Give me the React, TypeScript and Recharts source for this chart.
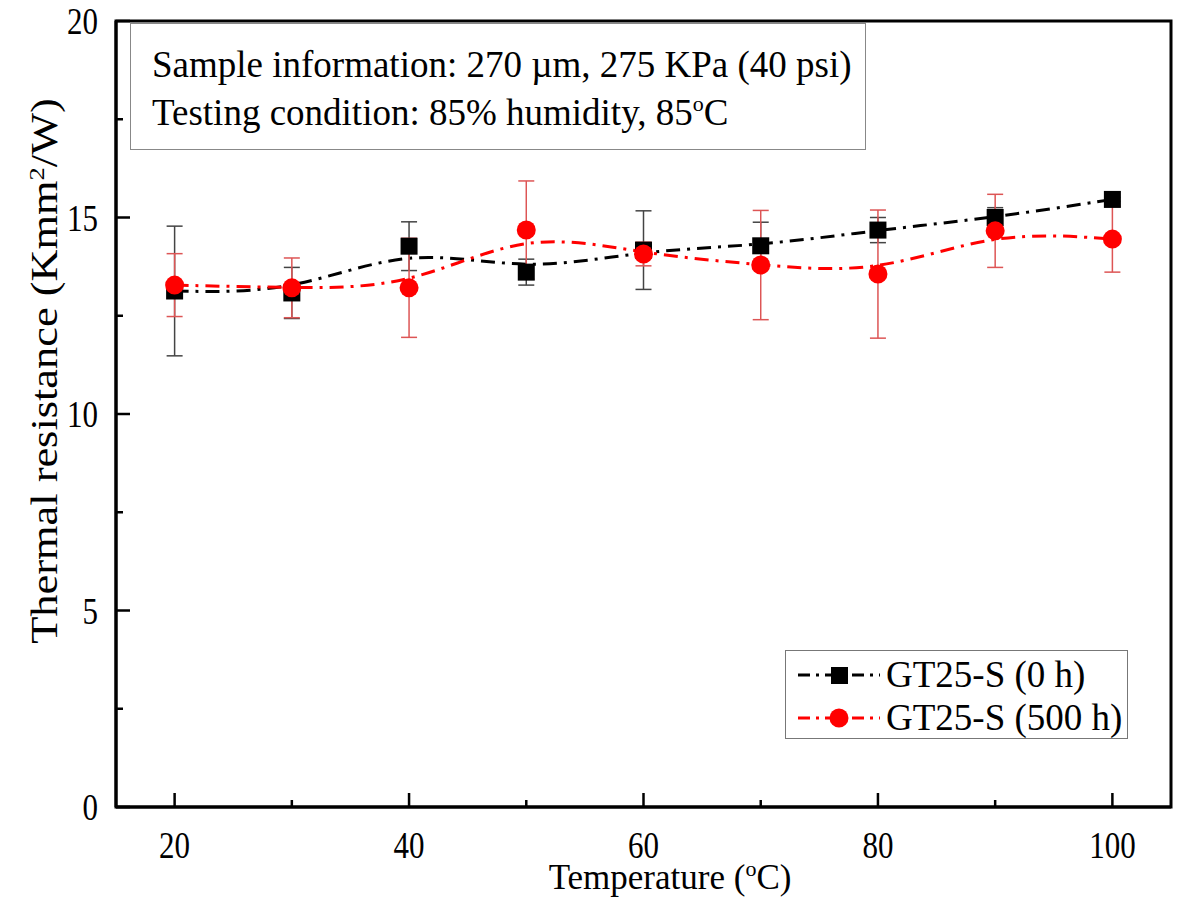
import { ComposedChart, Line, ErrorBar, XAxis, YAxis, Legend, ReferenceArea } from 'recharts'

const temps = [20, 30, 40, 50, 60, 70, 80, 90, 100]
const res0h = [13.13, 13.08, 14.27, 13.61, 14.17, 14.28, 14.68, 15.0, 15.46]
const err0h = [1.65, 0.65, 0.62, 0.33, 1.0, 0.6, 0.32, 0.25, 0.05]
const res500h = [13.28, 13.21, 13.21, 14.68, 14.07, 13.79, 13.56, 14.66, 14.45]
const err500h = [0.8, 0.76, 1.26, 1.25, 0.3, 1.39, 1.63, 0.93, 0.84]

const xTicks = [20, 30, 40, 50, 60, 70, 80, 90, 100]
const xLabeled = [20, 40, 60, 80, 100]
const yTicks = [0, 2.5, 5, 7.5, 10, 12.5, 15, 17.5, 20]
const yLabeled = [0, 5, 10, 15, 20]

const FONT = '"Liberation Serif", "Times New Roman", serif'
const RED = '#ff0000'
const DASH = '14 7 3 7'

const data = temps.map((t, i) => ({
  t,
  h0: res0h[i],
  h0Err: err0h[i],
  h500: res500h[i],
  h500Err: err500h[i],
}))

// the source figure is a bit taller than wide, so axis text gets stretched vertically
function XTick({ x, y, payload }: any) {
  const major = xLabeled.includes(payload.value)
  return (
    <g>
      <line x1={x} x2={x} y1={y} y2={y - (major ? 14 : 7)} stroke="#000" strokeWidth={2.5} />
      {major && (
        <text
          transform={`translate(${x} ${y + 51}) scale(1 1.2)`}
          textAnchor="middle"
          fontSize={31}
          fontFamily={FONT}
          fill="#000"
        >
          {payload.value}
        </text>
      )}
    </g>
  )
}

function YTick({ x, y, payload }: any) {
  const major = yLabeled.includes(payload.value)
  return (
    <g>
      <line x1={x} x2={x + (major ? 14 : 7)} y1={y} y2={y} stroke="#000" strokeWidth={2.5} />
      {major && (
        <text
          transform={`translate(${x - 18} ${y + 13}) scale(1 1.22)`}
          textAnchor="end"
          fontSize={31}
          fontFamily={FONT}
          fill="#000"
        >
          {payload.value}
        </text>
      )}
    </g>
  )
}

function SquareDot(p: any) {
  const { cx, cy, index } = p
  return <rect key={`sq-${index}`} x={cx - 8.5} y={cy - 8.5} width={17} height={17} fill="#000" />
}

function CircleDot(p: any) {
  const { cx, cy, index } = p
  return <circle key={`ci-${index}`} cx={cx} cy={cy} r={9.5} fill={RED} />
}

function LegendBox() {
  const rows = [
    { label: 'GT25-S (0 h)', color: '#000', square: true },
    { label: 'GT25-S (500 h)', color: RED, square: false },
  ]
  return (
    <div
      style={{
        border: '1.5px solid #777',
        background: '#fff',
        width: 343,
        height: 89,
        boxSizing: 'border-box',
        paddingTop: 2,
        fontFamily: FONT,
      }}
    >
      {rows.map((r) => (
        <div key={r.label} style={{ display: 'flex', alignItems: 'center', height: 43 }}>
          <svg width={92} height={30} style={{ marginLeft: 8 }}>
            <line x1={4} x2={86} y1={15} y2={15} stroke={r.color} strokeWidth={3} strokeDasharray="12 6 3 6" />
            {r.square ? (
              <rect x={37} y={7} width={17} height={17} fill="#000" />
            ) : (
              <circle cx={45} cy={15} r={9.5} fill={RED} />
            )}
          </svg>
          <span style={{ fontSize: 37, color: '#000', lineHeight: '37px' }}>{r.label}</span>
        </div>
      ))}
    </div>
  )
}

export default function App() {
  return (
    <div style={{ position: 'absolute', left: 0, top: 0, width: 1178, height: 901, background: '#fff' }}>
      <ComposedChart
        width={1178}
        height={901}
        data={data}
        margin={{ top: 21, right: 7, bottom: 0, left: 0 }}
      >
        <XAxis
          dataKey="t"
          type="number"
          domain={[15, 105]}
          ticks={xTicks}
          tick={<XTick />}
          tickLine={false}
          tickSize={0}
          tickMargin={0}
          height={94}
          axisLine={{ stroke: '#000', strokeWidth: 3 }}
          label={{
            content: () => (
              <text x={670} y={889} textAnchor="middle" fontSize={35} fontFamily={FONT} fill="#000">
                Temperature (<tspan dy={-13} fontSize={22}>o</tspan>
                <tspan dy={13}>C)</tspan>
              </text>
            ),
          }}
        />
        <YAxis
          type="number"
          domain={[0, 20]}
          ticks={yTicks}
          tick={<YTick />}
          tickLine={false}
          tickSize={0}
          tickMargin={0}
          width={116}
          axisLine={{ stroke: '#000', strokeWidth: 3 }}
          label={{
            content: () => (
              <text
                x={0}
                y={0}
                transform="translate(57 371) rotate(-90) scale(1.2 1)"
                textAnchor="middle"
                fontSize={37}
                fontFamily={FONT}
                fill="#000"
              >
                Thermal resistance (Kmm<tspan dy={-13} fontSize={22}>2</tspan>
                <tspan dy={13}>/W)</tspan>
              </text>
            ),
          }}
        />
        <ReferenceArea x1={15} x2={105} y1={0} y2={20} fill="none" stroke="#000" strokeWidth={3} ifOverflow="visible" />
        <Line
          dataKey="h0"
          name="GT25-S (0 h)"
          type="basis"
          stroke="#000"
          strokeWidth={3}
          strokeDasharray={DASH}
          dot={SquareDot}
          activeDot={false}
          isAnimationActive={false}
        >
          <ErrorBar dataKey="h0Err" direction="y" width={8} stroke="#444" strokeWidth={1.5} />
        </Line>
        <Line
          dataKey="h500"
          name="GT25-S (500 h)"
          type="basis"
          stroke={RED}
          strokeWidth={3}
          strokeDasharray={DASH}
          dot={CircleDot}
          activeDot={false}
          isAnimationActive={false}
        >
          <ErrorBar dataKey="h500Err" direction="y" width={8} stroke="#dd5555" strokeWidth={1.5} />
        </Line>
        <Legend
          layout="vertical"
          align="center"
          verticalAlign="middle"
          content={<LegendBox />}
          wrapperStyle={{ left: 785, top: 650, width: 343, height: 89 }}
        />
      </ComposedChart>
      <div
        style={{
          position: 'absolute',
          left: 130,
          top: 23,
          width: 736,
          height: 127,
          boxSizing: 'border-box',
          border: '1.5px solid #888',
          background: '#fff',
          fontFamily: FONT,
          fontSize: 37,
          color: '#000',
          paddingLeft: 21,
          paddingTop: 17,
          lineHeight: '48px',
        }}
      >
        <div>Sample information: 270 µm, 275 KPa (40 psi)</div>
        <div>
          Testing condition: 85% humidity, 85
          <sup style={{ fontSize: 22, verticalAlign: 'top', lineHeight: '30px' }}>o</sup>C
        </div>
      </div>
    </div>
  )
}
